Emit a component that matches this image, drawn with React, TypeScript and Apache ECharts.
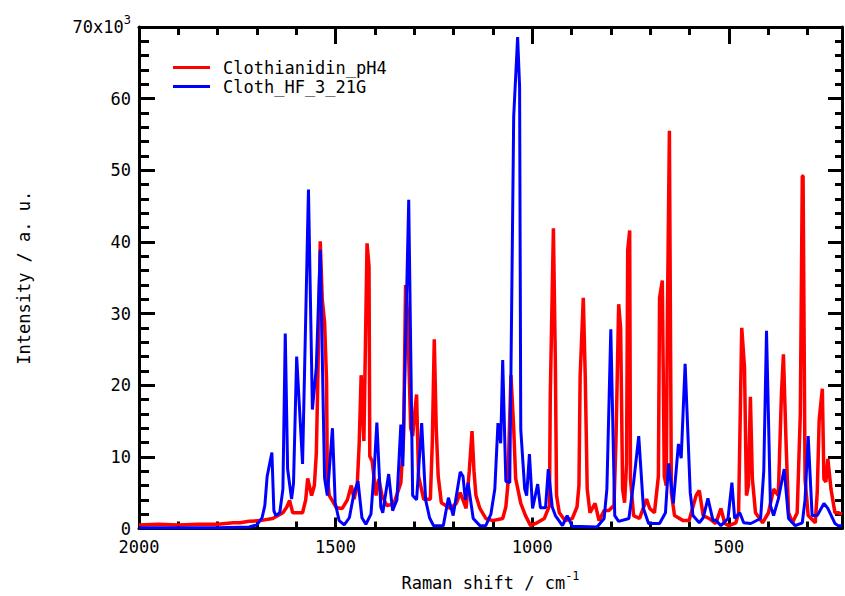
import React, { useEffect, useRef } from "react";
import * as echarts from "echarts";

// Raman shift (cm-1) and intensity (a.u.)
const redShift = [
  2000, 1950, 1900, 1850, 1800, 1760, 1743, 1720, 1692, 1660, 1634, 1624, 1617, 1609, 1584, 1576, 1571, 1561,
  1554, 1549, 1546, 1539, 1534, 1528, 1523, 1521, 1516, 1498, 1483, 1470, 1460, 1453, 1445, 1440, 1435, 1428,
  1420, 1415, 1413, 1407, 1397, 1390, 1382, 1370, 1352, 1334, 1327, 1322, 1317, 1309, 1304, 1299, 1294, 1289,
  1276, 1259, 1254, 1249, 1244, 1239, 1231, 1208, 1193, 1183, 1168, 1160, 1153, 1148, 1143, 1133, 1118, 1100,
  1075, 1067, 1062, 1054, 1047, 1042, 1029, 1017, 1004, 991, 969, 956, 954, 946, 941, 938, 931, 916, 898, 886,
  881, 878, 870, 865, 860, 853, 840, 830, 817, 805, 792, 787, 785, 780, 775, 770, 765, 760, 757, 752, 750, 742,
  727, 709, 701, 689, 679, 676, 669, 664, 659, 656, 651, 646, 638, 616, 601, 583, 575, 565, 550, 533, 520, 510,
  500, 482, 475, 467, 460, 455, 450, 445, 440, 432, 414, 399, 386, 374, 366, 361, 354, 348, 338, 326, 318, 313,
  311, 306, 298, 280, 275, 270, 262, 258, 253, 248, 240, 230, 222, 212,
];
const redIntensity = [
  500, 600, 500, 600, 600, 800, 800, 1000, 1100, 1400, 2200, 3000, 3900, 2200, 2200, 4000, 7000, 4600,
  6000, 10500, 18400, 40100, 32000, 28800, 20700, 7000, 4600, 2900, 2800, 4000, 6000, 4100, 6000, 11800, 21400, 12200,
  39800, 36600, 10100, 9400, 4600, 6900, 4600, 3200, 3400, 6400, 12900, 34000, 30000, 14000, 12900, 16000, 18700, 7300,
  4100, 4100, 12000, 26400, 14000, 7300, 3600, 2800, 3500, 5000, 2800, 8000, 13600, 8000, 4600, 2800, 1400, 1100,
  1400, 3000, 6000, 21400, 14000, 7000, 3500, 1800, 400, 700, 1400, 3200, 18400, 41900, 23000, 4600, 2200, 1100, 1400, 3000,
  6000, 21200, 32200, 21200, 5500, 2200, 3500, 1100, 2500, 2500, 3200, 12000, 17400, 31300, 28000, 5500, 3600, 9000, 38900, 41600, 6900, 1800,
  1400, 4100, 2800, 2200, 7300, 32200, 34600, 7300, 6000, 30000, 55500, 5000, 1800, 1100, 1100, 4600, 5300, 1800, 1400, 700, 2800, 700,
  400, 800, 2200, 28000, 22500, 4600, 6000, 18400, 7000, 2200, 800, 2200, 5500, 4600, 18800, 24300, 11500, 2200, 800, 2200, 16000, 49200,
  49200, 6900, 1800, 800, 5000, 15200, 19500, 6900, 6500, 9700, 5500, 2200, 2200, 2000,
];

const blueShift = [
  2000, 1900, 1800, 1720, 1700, 1687, 1680, 1674, 1662, 1657, 1652, 1642, 1634, 1628, 1622, 1612, 1607, 1599,
  1584, 1569, 1559, 1549, 1539, 1528, 1521, 1508, 1501, 1491, 1478, 1465, 1453, 1443, 1433, 1423, 1410, 1402,
  1395, 1385, 1380, 1365, 1355, 1344, 1334, 1329, 1314, 1304, 1294, 1281, 1271, 1261, 1251, 1226, 1213, 1201,
  1183, 1176, 1170, 1163, 1150, 1133, 1118, 1105, 1095, 1087, 1080, 1075, 1067, 1057, 1047, 1037, 1032, 1029,
  1019, 1014, 1007, 999, 986, 979, 966, 959, 949, 941, 923, 911, 898, 835, 817, 810, 800, 790, 780, 754, 742,
  729, 717, 704, 676, 661, 653, 641, 628, 621, 611, 598, 591, 575, 565, 553, 540, 533, 520, 502, 492, 485, 472,
  462, 444, 419, 411, 404, 394, 386, 374, 359, 348, 331, 313, 306, 298, 288, 275, 258, 248, 230, 222, 212,
];
const blueIntensity = [
  100, 100, 100, 200, 500, 1500, 3200, 7300, 10600, 2500, 1800, 2200, 5500, 27200, 8300, 4100, 6300, 24000,
  9000, 47300, 16600, 22500, 38900, 7000, 4600, 14000, 3600, 1100, 500, 1500, 5000, 6600, 1500, 600, 2000, 8000,
  14800, 3000, 2200, 7600, 2500, 4000, 14500, 8700, 45900, 4600, 4000, 14700, 4000, 1500, 400, 400, 4300, 1800,
  7900, 7300, 4000, 6400, 1400, 400, 400, 2000, 5500, 14700, 11900, 23500, 6600, 6400, 57500, 68600, 61700, 13800,
  5500, 4600, 10400, 2800, 6200, 2900, 2900, 8300, 3000, 1800, 400, 1800, 300, 200, 1400, 5500, 27800, 1800, 1000, 1400, 6400,
  12900, 2800, 700, 700, 2200, 9100, 3500, 11800, 9800, 23000, 5000, 1800, 800, 1500, 4200, 1100, 1200, 400, 1400, 6400, 1400, 2200,
  800, 700, 1400, 8000, 27600, 3200, 1800, 4100, 8300, 1400, 400, 800, 4000, 12900, 1800, 1800, 3500, 2800, 700, 400, 400,
];

const seriesNames = ["Clothianidin_pH4", "Cloth_HF_3_21G"];
const xTickLabels = ["2000", "1500", "1000", "500"];
const yTickLabels = ["0", "10", "20", "30", "40", "50", "60", "70x10"];

const SHIFT_START = 2000;
const SHIFT_END = 212;
const FONT = "'DejaVu Sans Mono', monospace";

function toPairs(shift: number[], inten: number[]) {
  return shift.map((s, i) => [SHIFT_START - s, inten[i]]);
}

export default function App() {
  const ref = useRef<HTMLDivElement>(null);
  useEffect(() => {
    if (!ref.current) return;
    const chart = echarts.init(ref.current, null, { renderer: "svg" });
    const axisLine = { show: true, onZero: false, lineStyle: { color: "#000", width: 3 } };
    const xBase = {
      type: "value" as const,
      min: 0,
      max: SHIFT_START - SHIFT_END,
      interval: 500,
      splitLine: { show: false },
      axisLine,
    };
    const yBase = {
      type: "value" as const,
      min: 0,
      max: 70000,
      interval: 10000,
      splitLine: { show: false },
      axisLine,
    };
    chart.setOption({
      animation: false,
      backgroundColor: "#fff",
      grid: { left: 139, top: 27, width: 708, height: 506 },
      legend: {
        data: seriesNames,
        orient: "vertical",
        left: 173,
        top: 59,
        icon: "rect",
        itemWidth: 37,
        itemHeight: 3,
        itemGap: 2,
        padding: 0,
        selectedMode: false,
        textStyle: { fontFamily: FONT, fontSize: 17, color: "#000", padding: [0, 0, 0, 8] },
      },
      xAxis: [
        {
          ...xBase,
          position: "bottom",
          name: "{n|Raman shift / cm}{s|-1}",
          nameLocation: "middle",
          nameGap: 41,
          nameTextStyle: {
            rich: {
              n: { fontFamily: FONT, fontSize: 17, color: "#000", lineHeight: 26 },
              s: { fontFamily: FONT, fontSize: 12, color: "#000", verticalAlign: "top", lineHeight: 12 },
            },
          },
          axisTick: { show: true, inside: true, length: 11, lineStyle: { color: "#000", width: 3 } },
          minorTick: { show: true, splitNumber: 5, length: 7, lineStyle: { color: "#000", width: 3 } },
          axisLabel: {
            margin: 10,
            fontFamily: FONT,
            fontSize: 17,
            color: "#000",
            formatter: (v: number) => {
              const idx = Math.round(v / 500);
              return Math.abs(v - idx * 500) < 1e-6 && idx < xTickLabels.length ? xTickLabels[idx] : "";
            },
          },
        },
        {
          ...xBase,
          position: "top",
          axisTick: { show: true, inside: true, length: 17, lineStyle: { color: "#000", width: 3 } },
          minorTick: { show: true, splitNumber: 5, length: 8, lineStyle: { color: "#000", width: 3 } },
          axisLabel: { show: false },
        },
      ],
      yAxis: [
        {
          ...yBase,
          position: "left",
          name: "Intensity / a. u.",
          nameLocation: "middle",
          nameRotate: 90,
          nameGap: 107,
          nameTextStyle: { fontFamily: FONT, fontSize: 17, color: "#000" },
          axisTick: { show: true, inside: true, length: 16, lineStyle: { color: "#000", width: 3 } },
          minorTick: { show: true, splitNumber: 5, length: 10, lineStyle: { color: "#000", width: 3 } },
          axisLabel: {
            margin: 8,
            formatter: (v: number) => {
              const idx = Math.round(v / 10000);
              const t = yTickLabels[idx];
              return idx === yTickLabels.length - 1 ? "{n|" + t + "}{s|3}" : "{n|" + t + "}";
            },
            rich: {
              n: { fontFamily: FONT, fontSize: 17, color: "#000", lineHeight: 26 },
              s: { fontFamily: FONT, fontSize: 12, color: "#000", verticalAlign: "top", lineHeight: 12 },
            },
          },
        },
        {
          ...yBase,
          position: "right",
          axisTick: { show: true, inside: true, length: 14, lineStyle: { color: "#000", width: 3 } },
          minorTick: { show: true, splitNumber: 5, length: 7, lineStyle: { color: "#000", width: 3 } },
          axisLabel: { show: false },
        },
      ],
      series: [
        {
          name: seriesNames[0],
          type: "line",
          xAxisIndex: 0,
          yAxisIndex: 0,
          data: toPairs(redShift, redIntensity),
          showSymbol: false,
          symbol: "none",
          color: "#ff0000",
          lineStyle: { color: "#ff0000", width: 3.5 },
          z: 2,
        },
        {
          name: seriesNames[1],
          type: "line",
          xAxisIndex: 0,
          yAxisIndex: 0,
          data: toPairs(blueShift, blueIntensity),
          showSymbol: false,
          symbol: "none",
          color: "#0000ff",
          lineStyle: { color: "#0000ff", width: 3 },
          z: 3,
        },
      ],
    });
    return () => chart.dispose();
  }, []);
  return (
    <div
      ref={ref}
      style={{ position: "fixed", left: 0, top: 0, width: 845, height: 596, background: "#fff" }}
    />
  );
}
